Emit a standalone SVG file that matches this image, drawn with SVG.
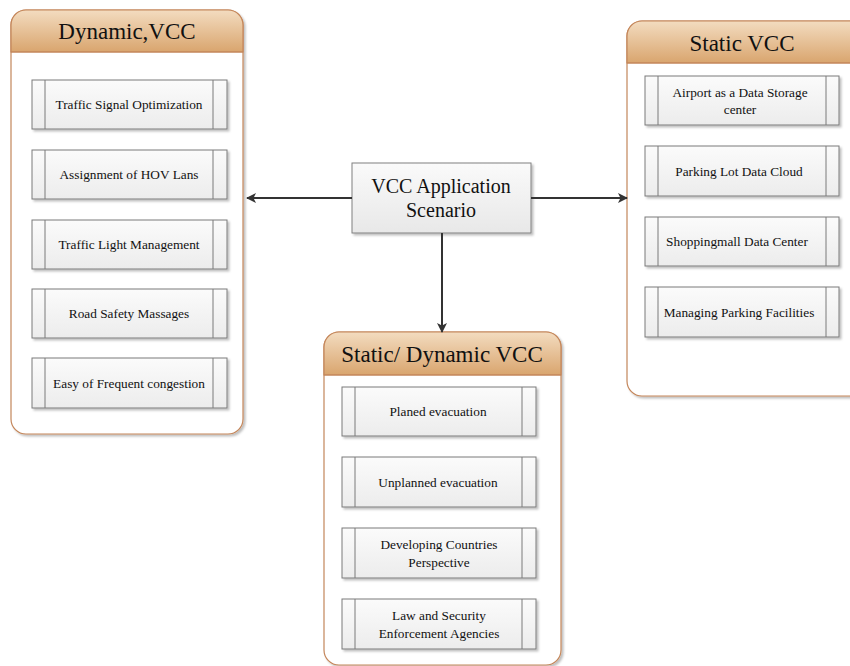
<svg xmlns="http://www.w3.org/2000/svg" width="850" height="666" viewBox="0 0 850 666">
<defs>
<linearGradient id="hdr" x1="0" y1="0" x2="0" y2="1">
<stop offset="0" stop-color="#f3dcc0"/>
<stop offset="1" stop-color="#d9a56e"/>
</linearGradient>
<linearGradient id="itm" x1="0" y1="0" x2="0" y2="1">
<stop offset="0" stop-color="#fbfbfb"/>
<stop offset="1" stop-color="#ececec"/>
</linearGradient>
<linearGradient id="ctr" x1="0" y1="0" x2="0" y2="1">
<stop offset="0" stop-color="#fafafa"/>
<stop offset="1" stop-color="#e8e8e8"/>
</linearGradient>
<filter id="sh" x="-10%" y="-10%" width="130%" height="130%">
<feDropShadow dx="2" dy="2" stdDeviation="1.2" flood-color="#000" flood-opacity="0.25"/>
</filter>
<marker id="arr" viewBox="0 0 10 10" refX="9" refY="5" markerWidth="10" markerHeight="10" markerUnits="userSpaceOnUse" orient="auto">
<path d="M0,0 L10,5 L0,10 L2.5,5 Z" fill="#333"/>
</marker>
</defs>
<style>
.cont{fill:#fff;stroke:#c4865a;stroke-width:1.2}
.hline{stroke:#c4865a;stroke-width:1.2}
.htxt{font-family:"Liberation Serif","Times New Roman",serif;font-size:23px;fill:#111;text-anchor:middle}
.ibox{fill:url(#itm);stroke:#7a7a7a;stroke-width:1}
.iline{stroke:#7a7a7a;stroke-width:1}
.itxt{font-family:"Liberation Serif","Times New Roman",serif;font-size:13.3px;fill:#111;text-anchor:middle}
.ctxt{font-family:"Liberation Serif","Times New Roman",serif;font-size:20px;fill:#111;text-anchor:middle}
.conn{stroke:#333;stroke-width:2;fill:none}
</style>

<!-- Left container -->
<g id="dynamic">
<path class="cont" filter="url(#sh)" d="M26,10 H228 A15,15 0 0 1 243,25 V419 A15,15 0 0 1 228,434 H26 A15,15 0 0 1 11,419 V25 A15,15 0 0 1 26,10 Z"/>
<path d="M26,10 H228 A15,15 0 0 1 243,25 V52 H11 V25 A15,15 0 0 1 26,10 Z" fill="url(#hdr)" stroke="#c4865a" stroke-width="1.2"/>
<line class="hline" x1="11" y1="52" x2="243" y2="52"/>
<text class="htxt" x="127" y="39">Dynamic,VCC</text>
</g>
<g id="d1"><rect class="ibox" filter="url(#sh)" x="32" y="80" width="195" height="49"/><line class="iline" x1="45" y1="80" x2="45" y2="129"/><line class="iline" x1="213" y1="80" x2="213" y2="129"/><text class="itxt" x="129" y="109">Traffic Signal Optimization</text></g>
<g id="d2"><rect class="ibox" filter="url(#sh)" x="32" y="150" width="195" height="49"/><line class="iline" x1="45" y1="150" x2="45" y2="199"/><line class="iline" x1="213" y1="150" x2="213" y2="199"/><text class="itxt" x="129" y="179">Assignment of HOV Lans</text></g>
<g id="d3"><rect class="ibox" filter="url(#sh)" x="32" y="220" width="195" height="49"/><line class="iline" x1="45" y1="220" x2="45" y2="269"/><line class="iline" x1="213" y1="220" x2="213" y2="269"/><text class="itxt" x="129" y="249">Traffic Light Management</text></g>
<g id="d4"><rect class="ibox" filter="url(#sh)" x="32" y="289" width="195" height="49"/><line class="iline" x1="45" y1="289" x2="45" y2="338"/><line class="iline" x1="213" y1="289" x2="213" y2="338"/><text class="itxt" x="129" y="318">Road Safety Massages</text></g>
<g id="d5"><rect class="ibox" filter="url(#sh)" x="32" y="358" width="195" height="50"/><line class="iline" x1="45" y1="358" x2="45" y2="408"/><line class="iline" x1="213" y1="358" x2="213" y2="408"/><text class="itxt" x="129" y="388">Easy of Frequent congestion</text></g>

<!-- Right container -->
<g id="static">
<path class="cont" filter="url(#sh)" d="M642,21 H870 V396 H642 A15,15 0 0 1 627,381 V36 A15,15 0 0 1 642,21 Z"/>
<path d="M642,21 H870 V63 H627 V36 A15,15 0 0 1 642,21 Z" fill="url(#hdr)" stroke="#c4865a" stroke-width="1.2"/>
<line class="hline" x1="627" y1="63" x2="870" y2="63"/>
<text class="htxt" x="742" y="51">Static VCC</text>
</g>
<g id="s1"><rect class="ibox" filter="url(#sh)" x="645" y="76" width="194" height="49"/><line class="iline" x1="658" y1="76" x2="658" y2="125"/><line class="iline" x1="826" y1="76" x2="826" y2="125"/><text class="itxt" x="740" y="97">Airport as a Data Storage</text><text class="itxt" x="740" y="114">center</text></g>
<g id="s2"><rect class="ibox" filter="url(#sh)" x="645" y="146" width="194" height="50"/><line class="iline" x1="658" y1="146" x2="658" y2="196"/><line class="iline" x1="826" y1="146" x2="826" y2="196"/><text class="itxt" x="739" y="176">Parking Lot Data Cloud</text></g>
<g id="s3"><rect class="ibox" filter="url(#sh)" x="645" y="217" width="194" height="49"/><line class="iline" x1="658" y1="217" x2="658" y2="266"/><line class="iline" x1="826" y1="217" x2="826" y2="266"/><text class="itxt" x="737" y="246">Shoppingmall Data Center</text></g>
<g id="s4"><rect class="ibox" filter="url(#sh)" x="645" y="287" width="194" height="50"/><line class="iline" x1="658" y1="287" x2="658" y2="337"/><line class="iline" x1="826" y1="287" x2="826" y2="337"/><text class="itxt" x="739" y="317">Managing Parking Facilities</text></g>

<!-- Bottom container -->
<g id="staticdynamic">
<path class="cont" filter="url(#sh)" d="M339,332 H546 A15,15 0 0 1 561,347 V650 A15,15 0 0 1 546,665 H339 A15,15 0 0 1 324,650 V347 A15,15 0 0 1 339,332 Z"/>
<path d="M339,332 H546 A15,15 0 0 1 561,347 V375 H324 V347 A15,15 0 0 1 339,332 Z" fill="url(#hdr)" stroke="#c4865a" stroke-width="1.2"/>
<line class="hline" x1="324" y1="375" x2="561" y2="375"/>
<text class="htxt" x="442" y="362">Static/ Dynamic VCC</text>
</g>
<g id="b1"><rect class="ibox" filter="url(#sh)" x="342" y="387" width="194" height="49"/><line class="iline" x1="355" y1="387" x2="355" y2="436"/><line class="iline" x1="522" y1="387" x2="522" y2="436"/><text class="itxt" x="438" y="416">Planed evacuation</text></g>
<g id="b2"><rect class="ibox" filter="url(#sh)" x="342" y="457" width="194" height="50"/><line class="iline" x1="355" y1="457" x2="355" y2="507"/><line class="iline" x1="522" y1="457" x2="522" y2="507"/><text class="itxt" x="438" y="487">Unplanned evacuation</text></g>
<g id="b3"><rect class="ibox" filter="url(#sh)" x="342" y="528" width="194" height="50"/><line class="iline" x1="355" y1="528" x2="355" y2="578"/><line class="iline" x1="522" y1="528" x2="522" y2="578"/><text class="itxt" x="439" y="549">Developing Countries</text><text class="itxt" x="439" y="567">Perspective</text></g>
<g id="b4"><rect class="ibox" filter="url(#sh)" x="342" y="599" width="194" height="50"/><line class="iline" x1="355" y1="599" x2="355" y2="649"/><line class="iline" x1="522" y1="599" x2="522" y2="649"/><text class="itxt" x="439" y="620">Law and Security</text><text class="itxt" x="439" y="638">Enforcement Agencies</text></g>

<!-- Center node -->
<g id="center">
<rect x="352" y="163" width="179" height="70" fill="url(#ctr)" stroke="#808080" stroke-width="1" filter="url(#sh)"/>
<text class="ctxt" x="441" y="193">VCC Application</text>
<text class="ctxt" x="441" y="217">Scenario</text>
</g>

<!-- Connectors -->
<g id="connectors">
<line class="conn" x1="352" y1="198" x2="247" y2="198" marker-end="url(#arr)"/>
<line class="conn" x1="531" y1="198" x2="627" y2="198" marker-end="url(#arr)"/>
<line class="conn" x1="442" y1="233" x2="442" y2="332" marker-end="url(#arr)"/>
</g>
</svg>
